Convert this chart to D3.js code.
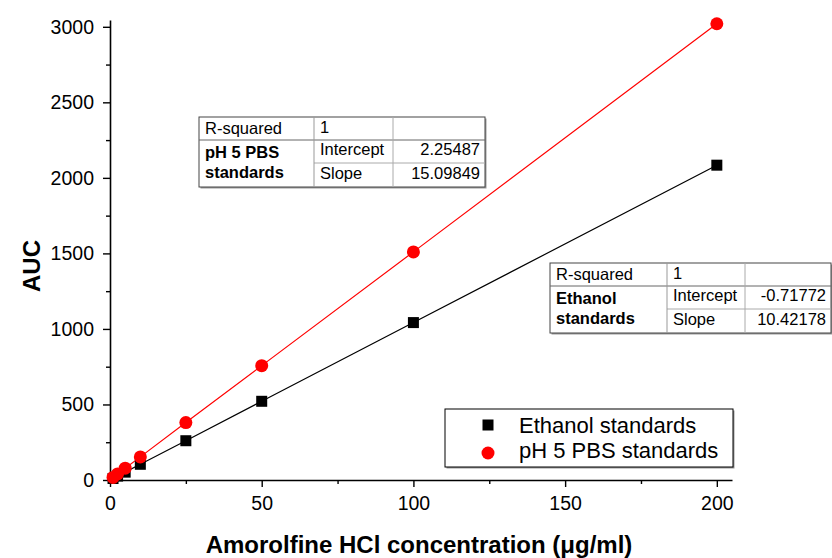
<!DOCTYPE html>
<html>
<head>
<meta charset="utf-8">
<script src="https://cdn.jsdelivr.net/npm/d3@7"></script>
<style>
  body { margin: 0; background: #fff; }
  text { font-family: "Liberation Sans", Arial, sans-serif; fill: #000; }
</style>
</head>
<body>
<div id="chart"></div>
<script>
// concentrations (ug/ml) and AUC readings
var conc = [1, 2.5, 5, 10, 25, 50, 100, 200];
var ethanolAUC = [10, 26, 52, 104, 260, 521, 1042, 2084];
var pbsAUC = [17, 40, 78, 153, 380, 757, 1510, 3020];

var seriesNames = ["Ethanol standards", "pH 5 PBS standards"];
var xTicks = [0, 50, 100, 150, 200];
var yTicks = [0, 500, 1000, 1500, 2000, 2500, 3000];

// fit result tables
var pbsFit = { name: ["pH 5 PBS", "standards"], r2: "1", intercept: "2.25487", slope: "15.09849" };
var ethFit = { name: ["Ethanol", "standards"], r2: "1", intercept: "-0.71772", slope: "10.42178" };

var svgWidth = 832, svgHeight = 558;
var margin = { top: 20, right: 100, bottom: 78, left: 110 };

var svg = d3.select("#chart").append("svg")
  .attr("width", svgWidth)
  .attr("height", svgHeight);

var xScale = d3.scaleLinear().domain([0, 205]).range([margin.left, 732]);
var yScale = d3.scaleLinear().domain([0, 3045]).range([480, margin.top]);

// axes (major + minor ticks, outward)
svg.append("g")
  .attr("transform", "translate(0,480)")
  .call(d3.axisBottom(xScale).tickValues(xTicks).tickSize(7).tickSizeOuter(0).tickPadding(9).tickFormat(d3.format("d")));
svg.append("g")
  .attr("transform", "translate(0,480)")
  .call(d3.axisBottom(xScale).tickValues([25, 75, 125, 175]).tickSize(4).tickSizeOuter(0).tickFormat(""))
  .select(".domain").remove();

svg.append("g")
  .attr("transform", `translate(${margin.left},0)`)
  .call(d3.axisLeft(yScale).tickValues(yTicks).tickSize(7).tickSizeOuter(0).tickPadding(9).tickFormat(d3.format("d")));
svg.append("g")
  .attr("transform", `translate(${margin.left},0)`)
  .call(d3.axisLeft(yScale).tickValues([250, 750, 1250, 1750, 2250, 2750]).tickSize(4).tickSizeOuter(0).tickFormat(""))
  .select(".domain").remove();

svg.selectAll(".domain").attr("stroke", "#000").attr("stroke-width", 1.6);
svg.selectAll(".tick line").attr("stroke", "#000").attr("stroke-width", 1.4);
svg.selectAll(".tick text")
  .attr("font-size", "19.5px")
  .attr("font-family", "Liberation Sans, Arial, sans-serif")
  .attr("fill", "#000");

// axis titles
svg.append("text")
  .attr("x", 419)
  .attr("y", 553)
  .attr("text-anchor", "middle")
  .attr("font-size", "24px")
  .attr("font-weight", "bold")
  .text("Amorolfine HCl concentration (\u03BCg/ml)");

svg.append("text")
  .attr("transform", "translate(40,266) rotate(-90)")
  .attr("text-anchor", "middle")
  .attr("font-size", "24px")
  .attr("font-weight", "bold")
  .text("AUC");

// fitted lines through the data
var ethData = conc.map((c, i) => ({ x: c, y: ethanolAUC[i] }));
var pbsData = conc.map((c, i) => ({ x: c, y: pbsAUC[i] }));

var line = d3.line().x(d => xScale(d.x)).y(d => yScale(d.y));

svg.append("path").datum(ethData)
  .attr("d", line).attr("fill", "none").attr("stroke", "#000").attr("stroke-width", 1.2);
svg.append("path").datum(pbsData)
  .attr("d", line).attr("fill", "none").attr("stroke", "#ff0000").attr("stroke-width", 1.2);

var sq = 11;
svg.selectAll(".eth").data(ethData).enter().append("rect")
  .attr("x", d => xScale(d.x) - sq / 2)
  .attr("y", d => yScale(d.y) - sq / 2)
  .attr("width", sq).attr("height", sq)
  .attr("fill", "#000");

svg.selectAll(".pbs").data(pbsData).enter().append("circle")
  .attr("cx", d => xScale(d.x))
  .attr("cy", d => yScale(d.y))
  .attr("r", 6.5)
  .attr("fill", "#ff0000");

// fit tables
function drawTable(x, y, fit, cols) {
  var g = svg.append("g").attr("transform", `translate(${x},${y})`);
  var rowH = [23, 23, 24];
  var w = cols[0] + cols[1] + cols[2];
  var h = rowH[0] + rowH[1] + rowH[2];
  g.append("rect").attr("x", 1.5).attr("y", 1.5).attr("width", w).attr("height", h)
    .attr("fill", "#999");
  g.append("rect").attr("width", w).attr("height", h)
    .attr("fill", "#fff").attr("stroke", "#444").attr("stroke-width", 1);
  // grid lines
  g.append("line").attr("x1", 0).attr("x2", w).attr("y1", rowH[0]).attr("y2", rowH[0]).attr("stroke", "#666");
  g.append("line").attr("x1", cols[0]).attr("x2", w).attr("y1", rowH[0] + rowH[1]).attr("y2", rowH[0] + rowH[1]).attr("stroke", "#aaa");
  g.append("line").attr("x1", cols[0]).attr("x2", cols[0]).attr("y1", 0).attr("y2", h).attr("stroke", "#999");
  g.append("line").attr("x1", cols[0] + cols[1]).attr("x2", cols[0] + cols[1]).attr("y1", 0).attr("y2", h).attr("stroke", "#aaa");

  var fs = "16.5px";
  g.append("text").attr("x", 6).attr("y", 17).attr("font-size", fs).text("R-squared");
  g.append("text").attr("x", cols[0] + 6).attr("y", 16).attr("font-size", fs).text(fit.r2);
  g.append("text").attr("x", 6).attr("y", 41).attr("font-size", fs).attr("font-weight", "bold").text(fit.name[0]);
  g.append("text").attr("x", 6).attr("y", 61).attr("font-size", fs).attr("font-weight", "bold").text(fit.name[1]);
  g.append("text").attr("x", cols[0] + 6).attr("y", 38).attr("font-size", fs).text("Intercept");
  g.append("text").attr("x", cols[0] + 6).attr("y", 62).attr("font-size", fs).text("Slope");
  g.append("text").attr("x", w - 5).attr("y", 38).attr("font-size", fs).attr("text-anchor", "end").text(fit.intercept);
  g.append("text").attr("x", w - 5).attr("y", 62).attr("font-size", fs).attr("text-anchor", "end").text(fit.slope);
}

drawTable(199, 117, pbsFit, [115, 79, 92]);
drawTable(550, 263, ethFit, [117, 78, 86]);

// legend
var legend = svg.append("g").attr("transform", "translate(445,409)");
legend.append("rect").attr("x", 1.5).attr("y", 1.5).attr("width", 288).attr("height", 58).attr("fill", "#999");
legend.append("rect").attr("width", 288).attr("height", 58)
  .attr("fill", "#fff").attr("stroke", "#000").attr("stroke-width", 1);

legend.append("rect").attr("x", 43 - sq / 2).attr("y", 16 - sq / 2).attr("width", sq).attr("height", sq).attr("fill", "#000");
legend.append("circle").attr("cx", 43).attr("cy", 44).attr("r", 6.5).attr("fill", "#ff0000");

legend.selectAll(".lbl").data(seriesNames).enter().append("text")
  .attr("x", 74)
  .attr("y", (d, i) => 24 + i * 25)
  .attr("font-size", "22px")
  .text(d => d);
</script>
</body>
</html>
